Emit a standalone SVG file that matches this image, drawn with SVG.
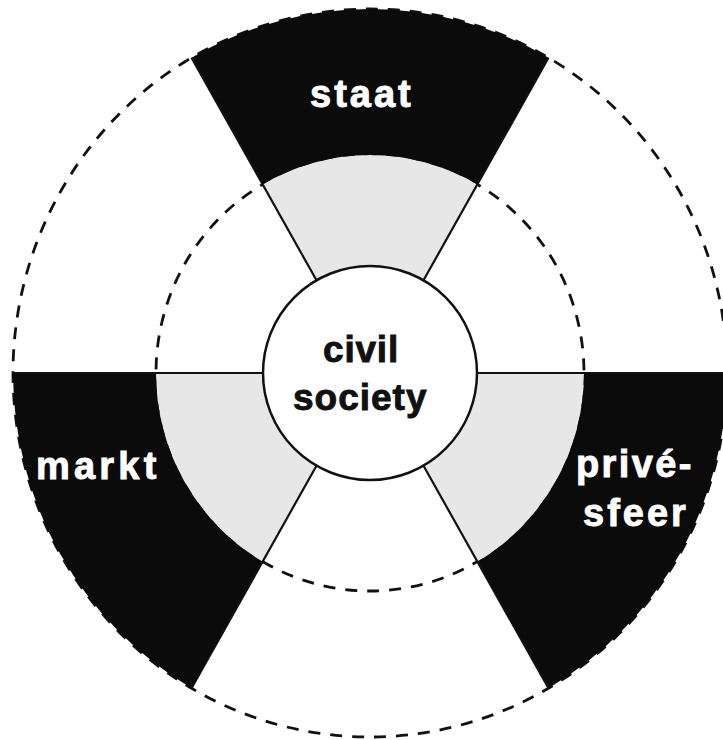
<svg xmlns="http://www.w3.org/2000/svg" width="723" height="740" viewBox="0 0 723 740">
<defs>
<style>
.dash{fill:none;stroke:#111;stroke-width:2.8;stroke-dasharray:12 10}
.blk{fill:#0b0b0b}
.gry{fill:#e7e7e7}
.edge{stroke:#111;stroke-width:2.2;fill:none}
.lbl{font-family:"Liberation Sans",Arial,Helvetica,sans-serif;font-weight:bold;font-size:38px;fill:#fff;stroke:#fff;stroke-width:0.9}
.ctr{font-family:"Liberation Sans",Arial,Helvetica,sans-serif;font-weight:bold;font-size:37px;fill:#111;stroke:#111;stroke-width:0.9}
</style>
</defs>
<rect width="723" height="740" fill="#fff"/>
<g id="rings">
<ellipse class="dash" cx="370" cy="373" rx="357" ry="364"/>
<ellipse class="dash" cx="370" cy="373" rx="214" ry="218"/>
</g>
<g id="staat">
<path class="gry" d="M263,184.2 A214,218 0 0 1 477,184.2 L423.5,280.3 A107,107 0 0 0 316.5,280.3 Z"/>
<path class="blk" d="M191.5,57.8 A357,364 0 0 1 548.5,57.8 L477,184.2 A214,218 0 0 0 263,184.2 Z"/>
<text class="lbl" x="310" y="107" letter-spacing="3">staat</text>
</g>
<g id="markt">
<path class="gry" d="M156,373 A214,218 0 0 0 263,561.8 L316.5,465.7 A107,107 0 0 1 263,373 Z"/>
<path class="blk" d="M13,373 A357,364 0 0 0 191.5,688.2 L263,561.8 A214,218 0 0 1 156,373 Z"/>
<text class="lbl" x="36" y="479" letter-spacing="4.2">markt</text>
</g>
<g id="privesfeer">
<path class="gry" d="M584,373 A214,218 0 0 1 477,561.8 L423.5,465.7 A107,107 0 0 0 477,373 Z"/>
<path class="blk" d="M727,373 A357,364 0 0 1 548.5,688.2 L477,561.8 A214,218 0 0 0 584,373 Z"/>
<text class="lbl" x="576" y="477" letter-spacing="2.4">privé-</text>
<text class="lbl" x="583" y="526" letter-spacing="3">sfeer</text>
</g>
<g id="connectors">
<path class="edge" d="M316.5,280.3 L191.5,57.8 M423.5,280.3 L548.5,57.8 M263,373 L13,373 M477,373 L727,373 M316.5,465.7 L191.5,688.2 M423.5,465.7 L548.5,688.2"/>
</g>
<g id="civil-society">
<circle cx="370" cy="373" r="107" fill="#fff" stroke="#111" stroke-width="2.5"/>
<text class="ctr" x="323" y="362" letter-spacing="0.8">civil</text>
<text class="ctr" x="293" y="410" letter-spacing="1">society</text>
</g>
</svg>
